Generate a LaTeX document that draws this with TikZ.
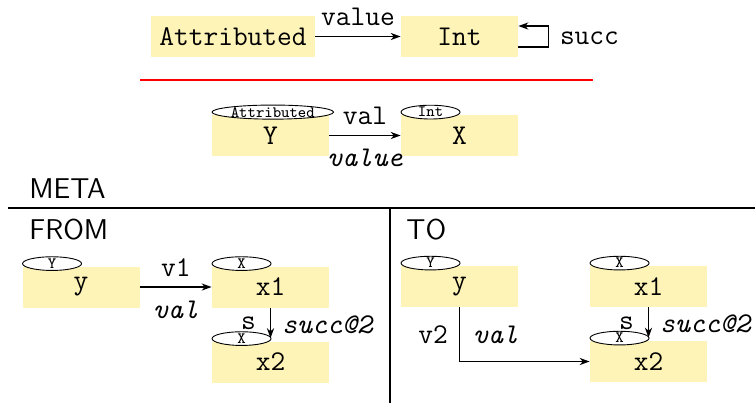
\documentclass[tikz,border=0pt]{standalone}
\usetikzlibrary{arrows.meta,shapes.geometric,calc}
\definecolor{boxy}{RGB}{255,244,184}
\begin{document}
\begin{tikzpicture}[x=0.5pt,y=-0.5pt,
  font=\fontsize{14.3pt}{17pt}\selectfont\ttfamily,
  box/.style={fill=boxy, minimum width=58.5pt, minimum height=20.5pt, inner sep=0pt},
  tag/.style={ellipse, draw, fill=white, line width=0.45pt, minimum width=29.5pt,
    minimum height=6.5pt, inner xsep=0.5pt, inner ysep=0pt, anchor=west,
    font=\fontsize{7.9pt}{8pt}\selectfont\ttfamily},
  arr/.style={-{Stealth[length=5pt,width=3.6pt]}, line width=0.6pt},
  lbl/.style={inner sep=0pt},
  ilbl/.style={inner sep=0pt, font=\fontsize{14.3pt}{17pt}\selectfont\ttfamily\itshape},
  head/.style={inner sep=0pt, anchor=west, font=\fontsize{14.3pt}{17pt}\selectfont\sffamily},
  rule/.style={line width=1pt}]
\useasboundingbox (0,0) rectangle (755,403);

% top schema
\node[box, minimum width=82pt] (attr) at (233,36.5) {Attributed};
\node[box] (int) at (459.5,36.5) {Int};
\draw[arr] (attr) -- node[lbl, above=5pt] {value} (int);
\draw[arr] ([yshift=-5.25pt]int.east) -- ++(30,0) |- node[lbl, pos=0.25, right=5.5pt, yshift=-1pt] {succ} ([yshift=5.25pt]int.east);

% red separator
\coordinate (rl) at (140,80);
\coordinate (rr) at (593,80);
\draw[red, line width=1.2pt] (rl) -- (rr);

% typed instance
\node[box] (Y) at (270.5,135.5) {Y};
\node[box] (X) at (459.5,135.5) {X};
\node[tag] (tY) at ($(Y.north west)+(0,-2.5)$) {Attributed};
\node[tag] (tX) at ($(X.north west)+(0,-2.5)$) {Int};
\draw[arr] (Y) -- node[lbl, above=5pt] {val} node[ilbl, below=6.5pt] {value} (X);

% META
\node[head] (meta) at (29,189) {META};
\coordinate (ml) at (8,208);
\coordinate (mr) at (755,208);
\coordinate (vt) at (390,208);
\coordinate (vb) at (390,403);
\draw[rule] (ml) -- (mr);
\draw[rule] (vt) -- (vb);

% FROM
\node[head] (from) at (29,230) {FROM};
\node[box] (fy) at (81,287) {y};
\node[box] (fx1) at (270.5,287) {x1};
\node[box] (fx2) at (270.5,362) {x2};
\node[tag] (tfy) at ($(fy.north west)+(0,-2.5)$) {Y};
\node[tag] (tfx1) at ($(fx1.north west)+(0,-2.5)$) {X};
\node[tag] (tfx2) at ($(fx2.north west)+(0,-2.5)$) {X};
\draw[arr] (fy) -- node[lbl, above=5pt] {v1} node[ilbl, below=6.5pt] {val} (fx1);
\draw[arr, shorten >=1.5pt] (fx1) -- node[lbl, left=7pt, yshift=0.5pt] {s} node[ilbl, right=5.5pt] {succ@2} (fx2);

% TO
\node[head] (to) at (406,230) {TO};
\node[box] (ty) at (459.5,286.5) {y};
\node[box] (tx1) at (648.5,286.5) {x1};
\node[box] (tx2) at (648.5,361.5) {x2};
\node[tag] (tty) at ($(ty.north west)+(0,-2.5)$) {Y};
\node[tag] (ttx1) at ($(tx1.north west)+(0,-2.5)$) {X};
\node[tag] (ttx2) at ($(tx2.north west)+(0,-2.5)$) {X};
\draw[arr] (ty.south) |- node[lbl, pos=0.25, left=5.5pt] {v2} node[ilbl, pos=0.25, right=6.5pt] {val} (tx2.west);
\draw[arr, shorten >=1.5pt] (tx1) -- node[lbl, left=7pt, yshift=0.5pt] {s} node[ilbl, right=5.5pt] {succ@2} (tx2);
\end{tikzpicture}
\end{document}
